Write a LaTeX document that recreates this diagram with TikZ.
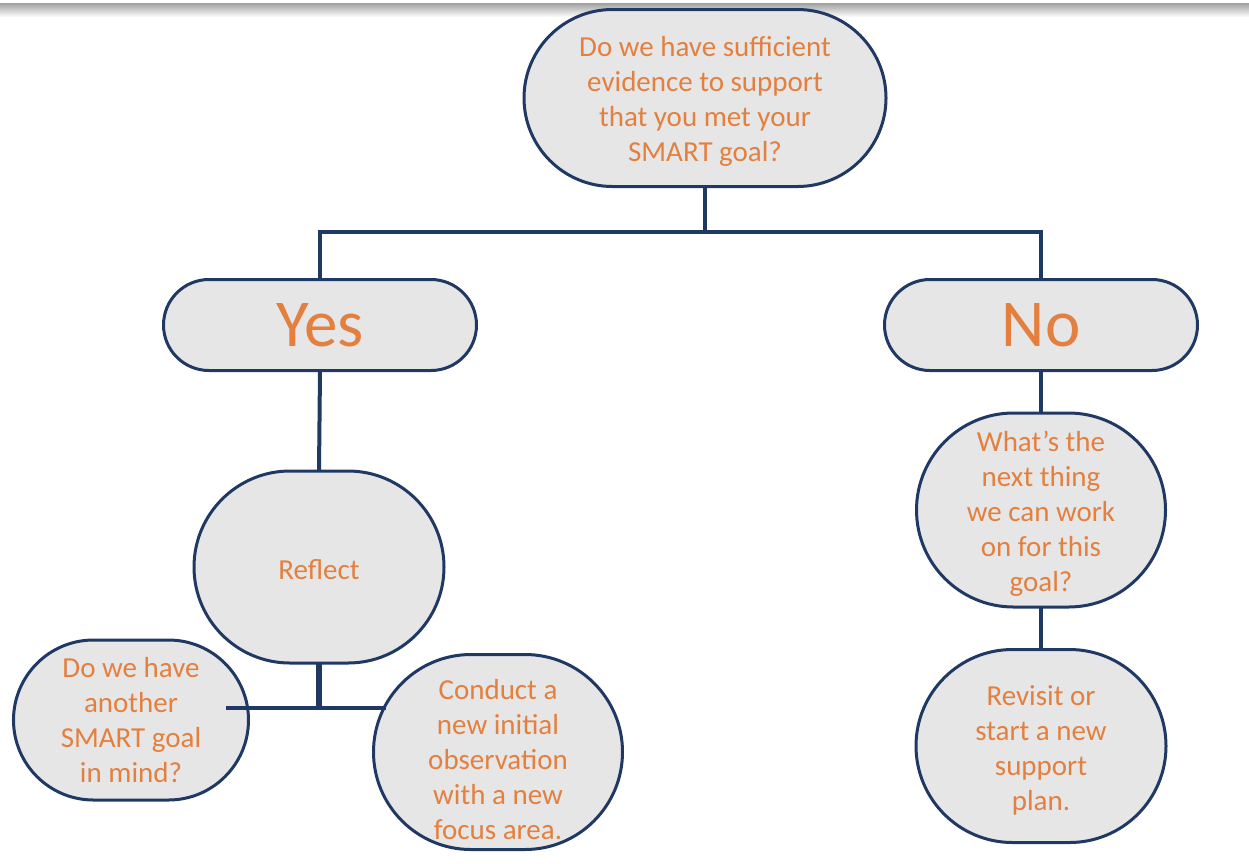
\documentclass[tikz,border=0pt]{standalone}
\usepackage{fontspec}
\setmainfont{Carlito}
\usetikzlibrary{shapes.misc}
\definecolor{navy}{HTML}{203864}
\definecolor{orng}{HTML}{E3803F}
\definecolor{fillg}{HTML}{E6E6E6}
\begin{document}
\begin{tikzpicture}[x=1pt,y=-1pt,
  blob/.style={rounded rectangle, draw=navy, line width=3pt, fill=fillg,
    inner sep=0pt, outer sep=0pt},
  txt/.style={text=orng, align=center, inner sep=0pt, font=\fontsize{29}{35}\selectfont},
  bigtxt/.style={text=orng, inner sep=0pt, font=\fontsize{67}{70}\selectfont},
  conn/.style={draw=navy, line width=4pt}]
\useasboundingbox (0,0) rectangle (1249,863);
\shade[top color=gray!75, bottom color=white] (0,3) rectangle (1249,17);

% shape nodes
\node[blob, minimum width=362pt, minimum height=177pt] (top) at (705,98) {};
\node[blob, minimum width=313pt, minimum height=91pt] (yes) at (320,325) {};
\node[blob, minimum width=313pt, minimum height=91pt] (no) at (1041,325) {};
\node[blob, minimum width=250pt, minimum height=192pt] (reflect) at (319,567) {};
\node[blob, minimum width=235pt, minimum height=160pt] (ask) at (131,720) {};
\node[blob, minimum width=249pt, minimum height=195pt] (conduct) at (498,752) {};
\node[blob, minimum width=249pt, minimum height=194pt] (whats) at (1041,510) {};
\node[blob, minimum width=250pt, minimum height=193pt] (revisit) at (1041,746) {};

% texts
\node[txt] (topT) at (705,101) {Do we have sufficient\\evidence to support\\that you met your\\SMART goal?};
\node[bigtxt] (yesT) at (320,325) {Yes};
\node[bigtxt] (noT) at (1041,325) {No};
\node[txt] (reflectT) at (319,570) {Reflect};
\node[txt] (askT) at (131,720) {Do we have\\another\\SMART goal\\in mind?};
\node[txt] (conductT) at (498,760) {Conduct a\\new initial\\observation\\with a new\\focus area.};
\node[txt] (whatsT) at (1041,514) {What’s the\\next thing\\we can work\\on for this\\goal?};
\node[txt] (revisitT) at (1041,750) {Revisit or\\start a new\\support\\plan.};

% connectors
\coordinate (bus) at (0,232);
\coordinate (hl) at (226,708);
\coordinate (hr) at (386,708);
\draw[conn] (top.south) -- (top.south |- bus);
\draw[conn] (yes.north) -- (yes.north |- bus) -- (no.north |- bus) -- (no.north);
\draw[conn] (yes.south) -- (reflect.north);
\draw[conn] (no.south) -- (whats.north);
\draw[conn] (whats.south) -- (revisit.north);
\draw[conn, line width=6pt] (reflect.south) -- (reflect.south |- hl);
\draw[conn] (hl) -- (hr);
\end{tikzpicture}
\end{document}
